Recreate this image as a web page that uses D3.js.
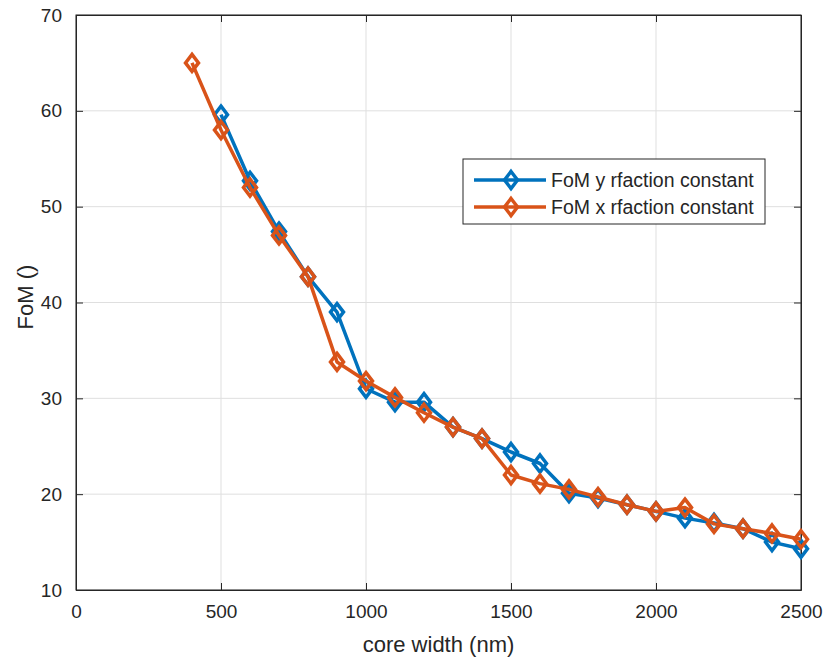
<!DOCTYPE html>
<html>
<head>
<meta charset="utf-8">
<script src="https://cdn.jsdelivr.net/npm/d3@7"></script>
<style>
  body { margin: 0; background: #fff; }
  text { font-family: "Liberation Sans", Arial, sans-serif; fill: #262626; }
</style>
</head>
<body>
<script>
// core width (nm)
var widthsX = [400, 500, 600, 700, 800, 900, 1000, 1100, 1200, 1300, 1400, 1500, 1600, 1700, 1800, 1900, 2000, 2100, 2200, 2300, 2400, 2500];
var widthsY = widthsX.slice(1);
// FoM values
var fomY = [59.6, 52.7, 47.4, 42.7, 39.0, 31.0, 29.6, 29.6, 27.0, 25.8, 24.4, 23.2, 20.1, 19.6, 18.9, 18.2, 17.5, 17.0, 16.4, 15.0, 14.3];
var fomX = [65.0, 58.0, 52.0, 47.0, 42.7, 33.8, 31.8, 30.1, 28.5, 27.0, 25.8, 22.0, 21.1, 20.5, 19.7, 18.9, 18.2, 18.6, 16.9, 16.4, 15.9, 15.3];
var xTicks = [0, 500, 1000, 1500, 2000, 2500];
var yTicks = [10, 20, 30, 40, 50, 60, 70];
var seriesNames = ["FoM y rfaction constant", "FoM x rfaction constant"];
var colors = ["#0072BD", "#D95319"];

var W = 825, H = 662;
var pLeft = 76, pRight = 801, pTop = 15, pBottom = 590;

var svg = d3.select("body").append("svg").attr("width", W).attr("height", H);

var x = d3.scaleLinear().domain([0, 2500]).range([pLeft, pRight]);
var y = d3.scaleLinear().domain([10, 70]).range([pBottom, pTop]);

// grid
svg.selectAll("line.gx").data(xTicks).enter().append("line")
  .attr("x1", function(d) { return x(d); }).attr("x2", function(d) { return x(d); })
  .attr("y1", pTop).attr("y2", pBottom)
  .attr("stroke", "#dfdfdf").attr("stroke-width", 1);
svg.selectAll("line.gy").data(yTicks).enter().append("line")
  .attr("y1", function(d) { return y(d); }).attr("y2", function(d) { return y(d); })
  .attr("x1", pLeft).attr("x2", pRight)
  .attr("stroke", "#dfdfdf").attr("stroke-width", 1);

// axes
var tickLen = 7;
svg.append("g").attr("transform", "translate(0," + pBottom + ")")
  .call(d3.axisBottom(x).tickValues(xTicks).tickFormat(d3.format("d")).tickSize(-tickLen).tickPadding(15).tickSizeOuter(0));
svg.append("g").attr("transform", "translate(" + pLeft + ",0)")
  .call(d3.axisLeft(y).tickValues(yTicks).tickFormat(d3.format("d")).tickSize(-tickLen).tickPadding(14).tickSizeOuter(0));
svg.append("g").attr("transform", "translate(0," + pTop + ")")
  .call(d3.axisTop(x).tickValues(xTicks).tickSize(-tickLen).tickFormat("").tickSizeOuter(0));
svg.append("g").attr("transform", "translate(" + pRight + ",0)")
  .call(d3.axisRight(y).tickValues(yTicks).tickSize(-tickLen).tickFormat("").tickSizeOuter(0));
svg.selectAll(".domain").attr("stroke", "#262626");
svg.selectAll(".tick line").attr("stroke", "#262626");
svg.selectAll(".tick text").style("font-size", "19px").attr("fill", "#262626");
svg.append("rect").attr("x", pLeft).attr("y", pTop).attr("width", pRight - pLeft).attr("height", pBottom - pTop)
  .attr("fill", "none").attr("stroke", "#262626").attr("stroke-width", 1);

// labels
svg.append("text").attr("x", (pLeft + pRight) / 2).attr("y", 652)
  .attr("text-anchor", "middle").style("font-size", "22px").text("core width (nm)");
svg.append("text").attr("transform", "translate(33," + 297 + ") rotate(-90)")
  .attr("text-anchor", "middle").style("font-size", "22px").text("FoM ()");

// series
var diamond = "M0,-8.5L6.5,0L0,8.5L-6.5,0Z";
function drawSeries(xs, ys, color) {
  var pts = xs.map(function(d, i) { return [d, ys[i]]; });
  var line = d3.line().x(function(d) { return x(d[0]); }).y(function(d) { return y(d[1]); });
  svg.append("path").datum(pts).attr("d", line).attr("fill", "none")
    .attr("stroke", color).attr("stroke-width", 3.5).attr("stroke-linejoin", "round");
  svg.append("g").selectAll("path").data(pts).enter().append("path")
    .attr("d", diamond)
    .attr("transform", function(d) { return "translate(" + x(d[0]) + "," + y(d[1]) + ")"; })
    .attr("fill", "none").attr("stroke", color).attr("stroke-width", 3.5);
}
drawSeries(widthsY, fomY, colors[0]);
drawSeries(widthsX, fomX, colors[1]);

// legend
var lg = svg.append("g");
lg.append("rect").attr("x", 463).attr("y", 159).attr("width", 302).attr("height", 65)
  .attr("fill", "#fff").attr("stroke", "#262626").attr("stroke-width", 1);
seriesNames.forEach(function(name, i) {
  var ry = 180 + i * 27;
  lg.append("line").attr("x1", 474).attr("x2", 546).attr("y1", ry).attr("y2", ry)
    .attr("stroke", colors[i]).attr("stroke-width", 3.5);
  lg.append("path").attr("d", diamond).attr("transform", "translate(511," + ry + ")")
    .attr("fill", "none").attr("stroke", colors[i]).attr("stroke-width", 3.5);
  lg.append("text").attr("x", 551).attr("y", ry + 7).style("font-size", "19.5px").text(name);
});
</script>
</body>
</html>
